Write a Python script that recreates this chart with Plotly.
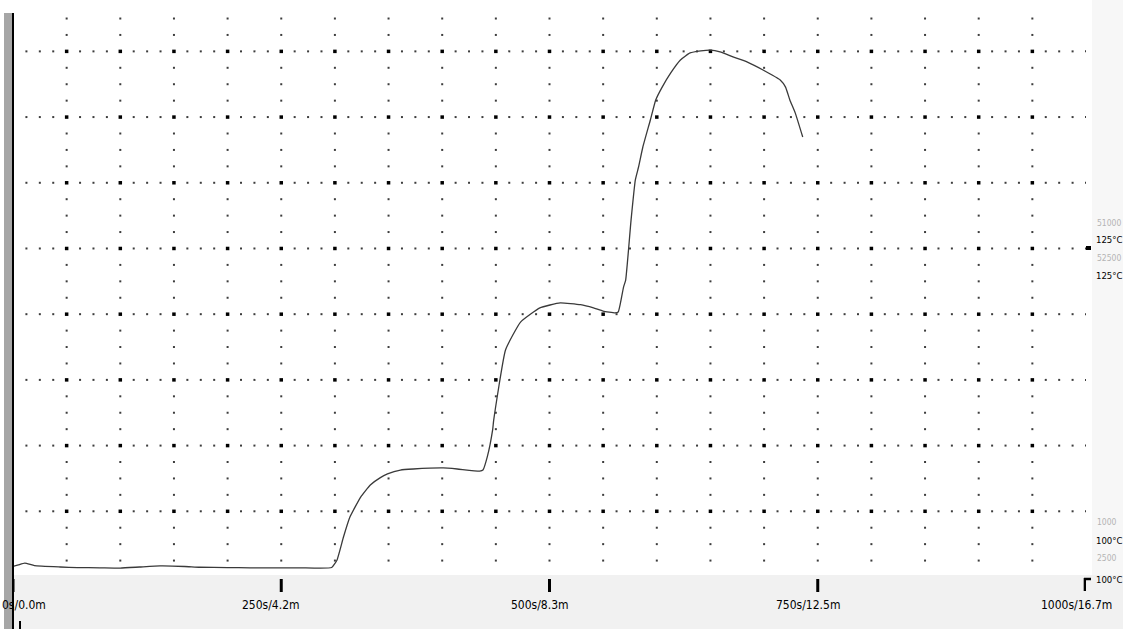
import numpy as np
import plotly.graph_objects as go

# Temperature trace: time in seconds, temperature in degrees C
time_s = [0, 5, 11, 20, 44, 60, 81, 100, 118, 137, 160, 174, 200, 221, 250, 268, 297,
          302, 308, 314, 324, 333, 342, 349, 361, 373, 401, 414, 435, 438,
          442, 447, 448, 459, 473, 491, 510, 529, 541, 550, 561, 564,
          566, 569, 571, 576, 580, 583, 587, 594, 599, 605, 613, 622, 631,
          641, 650, 659, 671, 684, 699, 715, 720, 724, 729, 736]
temp_c = [4.0, 4.6, 5.3, 4.3, 3.8, 3.6, 3.5, 3.4, 3.8, 4.2, 4.0, 3.7, 3.6, 3.5, 3.5, 3.5, 3.6,
          6.5, 15.2, 22.8, 30.4, 35.0, 37.7, 39.2, 40.7, 41.1, 41.5, 41.1, 40.3, 40.7,
          45.7, 56.0, 59.7, 86.4, 97.0, 102.4, 104.3, 103.6, 102.4, 101.2, 100.5, 100.8,
          104.0, 110.3, 113.0, 135.8, 151.1, 156.0, 163.6, 173.9, 181.5, 186.4, 191.8, 196.7, 199.4,
          200.2, 200.5, 199.8, 197.9, 196.0, 192.9, 189.1, 186.4, 181.5, 176.6, 167.4]

# Time axis labels
tick_times = [0, 250, 500, 750, 1000]
tick_text = ["0s/0.0m", "250s/4.2m", "500s/8.3m", "750s/12.5m", "1000s/16.7m"]

# Cursor readouts on the right edge
cursor_values = ["51000", "52500", "1000", "2500"]
cursor_temps = ["125°C", "125°C", "100°C", "100°C"]

T_MAX = 1000
V_DIV = 25.0      # degrees per horizontal division
T_DIV = 50.0      # seconds per vertical division
Y_RANGE = [1.9, 214.6]

fig = go.Figure()

# Dotted graticule built from point markers
minor_x, minor_y, major_x, major_y = [], [], [], []
for k in range(1, 9):
    v = k * V_DIV
    for t in np.arange(0, T_MAX + 0.01, T_DIV / 4):
        if t > 0 and abs(t % T_DIV) < 1e-6 and t < T_MAX:
            major_x.append(t); major_y.append(v)
        else:
            minor_x.append(t); minor_y.append(v)
for t in np.arange(T_DIV, T_MAX, T_DIV):
    for v in np.arange(V_DIV / 4, Y_RANGE[1], V_DIV / 4):
        if abs(v % V_DIV) < 1e-6:
            continue
        minor_x.append(t); minor_y.append(v)

fig.add_trace(go.Scatter(x=minor_x, y=minor_y, mode="markers",
                         marker=dict(size=2, color="#3c3c3c", symbol="square", line=dict(width=0)),
                         hoverinfo="skip", showlegend=False))
fig.add_trace(go.Scatter(x=major_x, y=major_y, mode="markers",
                         marker=dict(size=3.5, color="#000000", symbol="square", line=dict(width=0)),
                         hoverinfo="skip", showlegend=False))

# Measured curve
fig.add_trace(go.Scatter(x=time_s, y=temp_c, mode="lines",
                         line=dict(color="#3a3a3a", width=1.3, shape="spline", smoothing=0.4),
                         hoverinfo="skip", showlegend=False))

PLOT_H = 559.0
PLOT_W = 1073.0


def py(px):
    """Convert a window pixel row to paper y for the plot area."""
    return (572 - px) / PLOT_H


def px_(px):
    return (px - 13) / PLOT_W


shapes = []
# Shaded strip below the plot
shapes.append(dict(type="rect", xref="paper", yref="paper", x0=px_(13), x1=px_(1123),
                   y0=py(575), y1=py(629), fillcolor="#f1f1f1", line=dict(width=0), layer="below"))
# Faint strip on the right edge
shapes.append(dict(type="rect", xref="paper", yref="paper", x0=px_(1092), x1=px_(1123),
                   y0=py(0), y1=py(575), fillcolor="#f7f7f7", line=dict(width=0), layer="below"))
# Left frame bar
shapes.append(dict(type="rect", xref="paper", yref="paper", x0=px_(4), x1=px_(12),
                   y0=py(629), y1=py(13), fillcolor="#a6a6a6", line=dict(width=0)))
shapes.append(dict(type="line", xref="paper", yref="paper", x0=px_(13), x1=px_(13),
                   y0=py(629), y1=py(13), line=dict(color="#000000", width=2)))

# Time tick bars
for t in tick_times[:-1]:
    shapes.append(dict(type="line", xref="x", yref="paper", x0=t, x1=t,
                       y0=py(579), y1=py(592), line=dict(color="#000000", width=3)))
# End-of-record bracket
shapes.append(dict(type="line", xref="x", yref="paper", x0=T_MAX - 1, x1=T_MAX - 1,
                   y0=py(578), y1=py(591), line=dict(color="#000000", width=2.5)))
shapes.append(dict(type="line", xref="paper", yref="paper", x0=px_(1084), x1=px_(1091),
                   y0=py(579), y1=py(579), line=dict(color="#000000", width=2.5)))
# Cursor flag on the right edge
shapes.append(dict(type="rect", xref="paper", yref="paper", x0=px_(1086), x1=px_(1091),
                   y0=py(250), y1=py(246), fillcolor="#000000", line=dict(width=0)))
# Small start mark under the first label
shapes.append(dict(type="line", xref="paper", yref="paper", x0=px_(20), x1=px_(20),
                   y0=py(629), y1=py(621), line=dict(color="#000000", width=2)))

annotations = []
NARROW = "Liberation Sans Narrow, DejaVu Sans Condensed, Arial Narrow, sans-serif"
LABEL_FONT = dict(family=NARROW, size=12, color="#000000")
for i, (t, txt) in enumerate(zip(tick_times, tick_text)):
    if i == 0:
        annotations.append(dict(x=t, y=py(605), xref="x", yref="paper", text=txt, showarrow=False,
                                xanchor="left", yanchor="middle", xshift=-13, font=LABEL_FONT))
    else:
        annotations.append(dict(x=t, y=py(605), xref="x", yref="paper", text=txt, showarrow=False,
                                xanchor="center", yanchor="middle", xshift=-10, font=LABEL_FONT))

readout_rows = [(223, 239), (258, 275), (522, 540), (558, 579)]
for (ry_val, ry_temp), val, tmp in zip(readout_rows, cursor_values, cursor_temps):
    annotations.append(dict(x=1.0, y=py(ry_val), xref="paper", yref="paper", text=val,
                            showarrow=False, xanchor="left", yanchor="middle", xshift=9,
                            font=dict(family=NARROW, size=8.5, color="#b4b4b4")))
    annotations.append(dict(x=1.0, y=py(ry_temp), xref="paper", yref="paper", text=tmp,
                            showarrow=False, xanchor="left", yanchor="middle", xshift=8,
                            font=dict(family=NARROW, size=9.5, color="#000000")))

fig.update_layout(
    width=1123, height=629,
    margin=dict(l=13, r=37, t=13, b=57),
    paper_bgcolor="#ffffff", plot_bgcolor="#ffffff",
    xaxis=dict(range=[0, T_MAX], showgrid=False, zeroline=False, showticklabels=False,
               ticks="", showline=False, fixedrange=True),
    yaxis=dict(range=Y_RANGE, showgrid=False, zeroline=False, showticklabels=False,
               ticks="", showline=False, fixedrange=True),
    shapes=shapes,
    annotations=annotations,
    showlegend=False,
)

fig.write_html("out.html", config={"displayModeBar": False})
